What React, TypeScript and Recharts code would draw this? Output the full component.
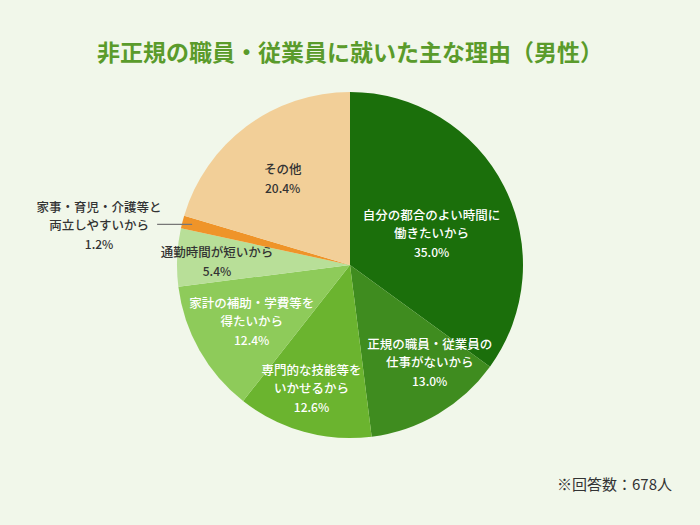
import React from 'react';
import { PieChart, Pie, Cell } from 'recharts';

const reasons = [
  ['自分の都合のよい時間に', '働きたいから'],
  ['正規の職員・従業員の', '仕事がないから'],
  ['専門的な技能等を', 'いかせるから'],
  ['家計の補助・学費等を', '得たいから'],
  ['通勤時間が短いから'],
  ['家事・育児・介護等と', '両立しやすいから'],
  ['その他'],
];
const shares = [35.0, 13.0, 12.6, 12.4, 5.4, 1.2, 20.4];

const COLORS = ['#1b6f0b', '#3f8c1f', '#6bb42f', '#8ecb5a', '#b8df98', '#ef9429', '#f2cf98'];
const TEXT_COLORS = ['#fff', '#fff', '#fff', '#fff', '#333', '#333', '#333'];
// label placement: distance from centre and angle nudge (deg)
const LABEL_R = [88, 125, 128, 113, 133, 0, 110];
const LABEL_SHIFT = [-5, 9, -2, 0, 1, 0, 1];

const FONT = '"Noto Sans CJK JP", "Noto Sans", sans-serif';
const RAD = Math.PI / 180;

const data = reasons.map((lines, i) => ({ name: lines.join(''), value: shares[i] }));

const renderLabel = (props: any) => {
  const { cx, cy, midAngle, outerRadius, index } = props;
  const lines = reasons[index];
  const pct = shares[index].toFixed(1) + '%';
  const color = TEXT_COLORS[index];
  const weight = 500;

  if (index === 5) {
    // outside label with leader line
    const sx = cx + (outerRadius - 10) * Math.cos(-midAngle * RAD);
    const sy = cy + (outerRadius - 10) * Math.sin(-midAngle * RAD);
    const ex = sx - 35;
    const tx = ex - 58;
    return (
      <g>
        <line x1={sx} y1={sy} x2={ex} y2={sy} stroke="#777" strokeWidth={1.2} />
        <text x={tx} y={sy - 18} textAnchor="middle" dominantBaseline="central" fill={color} fontSize={12.5} fontWeight={weight} fontFamily={FONT}>{lines[0]}</text>
        <text x={tx} y={sy} textAnchor="middle" dominantBaseline="central" fill={color} fontSize={12.5} fontWeight={weight} fontFamily={FONT}>{lines[1]}</text>
        <text x={tx} y={sy + 19} textAnchor="middle" dominantBaseline="central" fill={color} fontSize={12} fontWeight={weight} fontFamily={FONT}>{pct}</text>
      </g>
    );
  }

  const a = (midAngle + LABEL_SHIFT[index]) * RAD;
  const x = cx + LABEL_R[index] * Math.cos(-a);
  const y = cy + LABEL_R[index] * Math.sin(-a);
  const offs = lines.length === 2 ? [-18, 0, 19] : [-9.5, 9.5];

  return (
    <g>
      {lines.map((l, k) => (
        <text key={k} x={x} y={y + offs[k]} textAnchor="middle" dominantBaseline="central" fill={color} fontSize={12.5} fontWeight={weight} fontFamily={FONT}>
          {l}
        </text>
      ))}
      <text x={x} y={y + offs[offs.length - 1]} textAnchor="middle" dominantBaseline="central" fill={color} fontSize={12} fontWeight={weight} fontFamily={FONT}>
        {pct}
      </text>
    </g>
  );
};

const App: React.FC = () => {
  return (
    <div style={{ position: 'absolute', left: 0, top: 0, width: 700, height: 525, background: '#f1f7ea', fontFamily: FONT }}>
      <div style={{ position: 'absolute', left: 0, top: 34, width: 700, textAlign: 'center', fontSize: 23, fontWeight: 700, color: '#5a9b2b' }}>
        非正規の職員・従業員に就いた主な理由（男性）
      </div>
      <PieChart width={700} height={525} margin={{ top: 0, right: 0, bottom: 0, left: 0 }}>
        <Pie
          data={data}
          dataKey="value"
          cx={350}
          cy={265}
          outerRadius={173}
          startAngle={90}
          endAngle={-270}
          stroke="none"
          labelLine={false}
          label={renderLabel}
          isAnimationActive={false}
        >
          {data.map((_, i) => (
            <Cell key={`cell-${i}`} fill={COLORS[i]} />
          ))}
        </Pie>
      </PieChart>
      <div style={{ position: 'absolute', right: 28, top: 473, fontSize: 15, color: '#333' }}>
        ※回答数：678人
      </div>
    </div>
  );
};

export default App;
